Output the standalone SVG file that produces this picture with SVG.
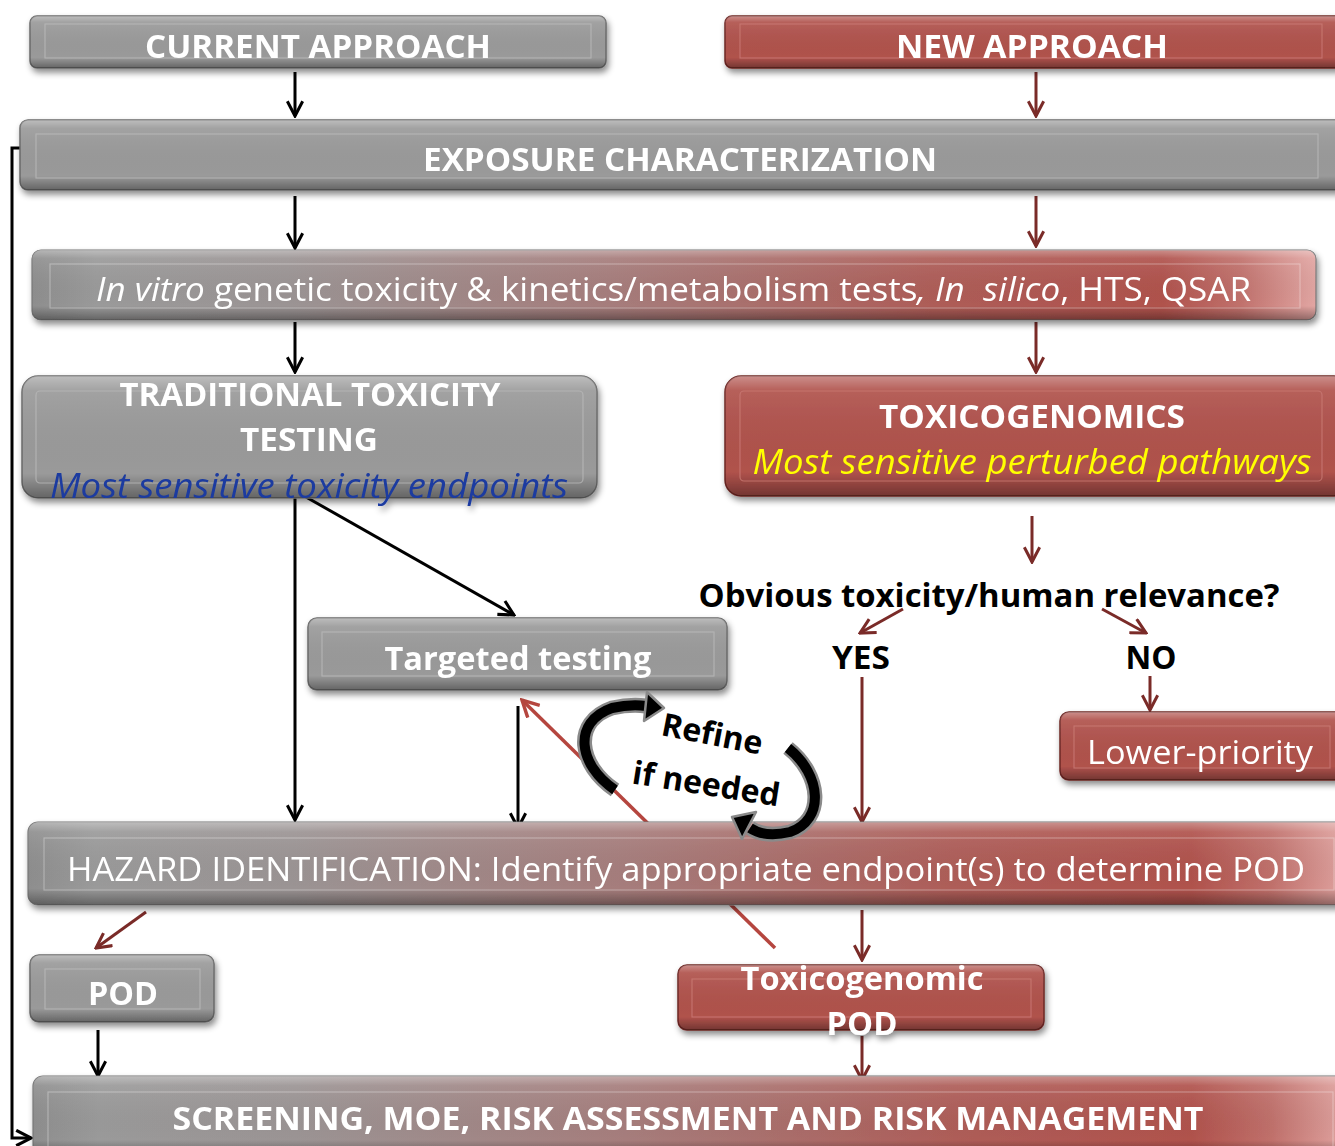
<svg xmlns="http://www.w3.org/2000/svg" width="1335" height="1146" viewBox="0 0 1335 1146">
<defs>
<style>
.g{fill:#9a9a9a;stroke:#6a6a6a;stroke-width:1.5}
.r{fill:#b0524c;stroke:#6e2724;stroke-width:1.5}
.bev{stroke:none}
.in{fill:none;stroke:#b8b8b8;stroke-width:1.2;opacity:.8}
.inr{fill:none;stroke:#c97a74;stroke-width:1.2;opacity:.8}
.t{font-family:"Open Sans","Liberation Sans",sans-serif;fill:#fff;font-weight:700;font-size:33px;text-anchor:middle}
.tn{font-family:"Open Sans","Liberation Sans",sans-serif;fill:#fff;font-weight:400;font-size:33px}
.k{font-family:"Open Sans","Liberation Sans",sans-serif;fill:#000;font-weight:700;font-size:32px;text-anchor:middle}
.cb{fill:none;stroke:#000;stroke-width:3}
.cr{fill:none;stroke:#7a2b28;stroke-width:3}
</style>
<filter id="sh" x="-5%" y="-20%" width="110%" height="150%">
<feDropShadow dx="2" dy="4" stdDeviation="3" flood-color="#000" flood-opacity="0.45"/>
</filter>
<linearGradient id="bev" x1="0" y1="0" x2="0" y2="1">
<stop offset="0" stop-color="#fff" stop-opacity="0.35"/>
<stop offset="0.12" stop-color="#fff" stop-opacity="0.08"/>
<stop offset="0.8" stop-color="#000" stop-opacity="0"/>
<stop offset="1" stop-color="#000" stop-opacity="0.35"/>
</linearGradient>
<linearGradient id="mix" x1="0" y1="0" x2="1" y2="0">
<stop offset="0" stop-color="#8e8e8e"/>
<stop offset="0.05" stop-color="#9a9a9a"/>
<stop offset="0.2" stop-color="#9b9494"/>
<stop offset="0.45" stop-color="#a67d7c"/>
<stop offset="0.7" stop-color="#ae5d58"/>
<stop offset="0.88" stop-color="#b0524c"/>
<stop offset="0.94" stop-color="#c0706b"/>
<stop offset="1" stop-color="#e2a6a3"/>
</linearGradient>
<marker id="ab" viewBox="0 0 14 14" refX="12.5" refY="7" markerWidth="18" markerHeight="18" markerUnits="userSpaceOnUse" orient="auto">
<path d="M1,1 L12.5,7 L1,13" fill="none" stroke="#000" stroke-width="2.4"/>
</marker>
<marker id="ar" viewBox="0 0 14 14" refX="12.5" refY="7" markerWidth="18" markerHeight="18" markerUnits="userSpaceOnUse" orient="auto">
<path d="M1,1 L12.5,7 L1,13" fill="none" stroke="#7a2b28" stroke-width="2.4"/>
</marker>
<marker id="ar2" viewBox="0 0 14 14" refX="12.5" refY="7" markerWidth="20" markerHeight="20" markerUnits="userSpaceOnUse" orient="auto">
<path d="M1,1 L12.5,7 L1,13" fill="none" stroke="#b5463f" stroke-width="2.4"/>
</marker>
</defs>
<rect width="1335" height="1146" fill="#fff"/>

<g id="connectors">
<path class="cb" d="M295,72 V116" marker-end="url(#ab)"/>
<path class="cr" d="M1036,72 V116" marker-end="url(#ar)"/>
<path class="cb" d="M295,196 V248" marker-end="url(#ab)"/>
<path class="cr" d="M1036,196 V246" marker-end="url(#ar)"/>
<path class="cb" d="M295,322 V372" marker-end="url(#ab)"/>
<path class="cr" d="M1036,322 V372" marker-end="url(#ar)"/>
<path class="cr" d="M1032,516 V562" marker-end="url(#ar)"/>
<path class="cb" d="M295,496 V820" marker-end="url(#ab)"/>
<path class="cb" d="M306,497 L514,615" marker-end="url(#ab)"/>
<path class="cb" d="M518,706 V828" marker-end="url(#ab)"/>
<path d="M775,948 L522,700" fill="none" stroke="#b5463f" stroke-width="3.5" marker-end="url(#ar2)"/>
<path class="cr" d="M903,609 L860,633" marker-end="url(#ar)"/>
<path class="cr" d="M1102,609 L1146,633" marker-end="url(#ar)"/>
<path class="cr" d="M862,677 V822" marker-end="url(#ar)"/>
<path class="cr" d="M1150,676 V710" marker-end="url(#ar)"/>
<path class="cr" d="M146,912 L96,948" marker-end="url(#ar)"/>
<path class="cb" d="M98,1030 V1076" marker-end="url(#ab)"/>
<path class="cr" d="M862,910 V960" marker-end="url(#ar)"/>
<path class="cr" d="M862,1036 V1080" marker-end="url(#ar)"/>
<path class="cb" d="M22,148 H12 V1138 H31" marker-end="url(#ab)"/>
</g>

<g id="current" filter="url(#sh)">
<rect class="g" x="30" y="16" width="576" height="52" rx="7"/>
<rect class="bev" x="30" y="16" width="576" height="52" rx="7" fill="url(#bev)"/>
<rect class="in" x="45" y="24" width="546" height="34"/>
<text class="t" x="318" y="58" textLength="346" lengthAdjust="spacingAndGlyphs">CURRENT APPROACH</text>
</g>

<g id="new" filter="url(#sh)">
<rect class="r" x="725" y="16" width="620" height="52" rx="7"/>
<rect class="bev" x="725" y="16" width="620" height="52" rx="7" fill="url(#bev)"/>
<rect class="inr" x="740" y="24" width="582" height="34"/>
<text class="t" x="1032" y="58" textLength="272" lengthAdjust="spacingAndGlyphs">NEW APPROACH</text>
</g>

<g id="exposure" filter="url(#sh)">
<rect class="g" x="20" y="120" width="1330" height="70" rx="8"/>
<rect class="bev" x="20" y="120" width="1330" height="70" rx="8" fill="url(#bev)"/>
<rect class="in" x="36" y="134" width="1282" height="44"/>
<text class="t" x="680" y="171" textLength="514" lengthAdjust="spacingAndGlyphs">EXPOSURE CHARACTERIZATION</text>
</g>

<g id="invitro" filter="url(#sh)">
<rect x="32" y="250" width="1284" height="70" rx="9" fill="url(#mix)" stroke="#777" stroke-width="1.2"/>
<rect class="bev" x="32" y="250" width="1284" height="70" rx="9" fill="url(#bev)"/>
<rect x="50" y="264" width="1250" height="44" fill="none" stroke="#fff" stroke-opacity="0.3" stroke-width="1.2"/>
<text class="tn" x="96" y="301" textLength="1155" lengthAdjust="spacingAndGlyphs" style="white-space:pre"><tspan font-style="italic">In vitro</tspan> genetic toxicity &amp; kinetics/metabolism tests<tspan font-style="italic">, In  silico</tspan>, HTS, QSAR</text>
</g>

<g id="traditional" filter="url(#sh)">
<rect class="g" x="22" y="376" width="575" height="122" rx="16"/>
<rect class="bev" x="22" y="376" width="575" height="122" rx="16" fill="url(#bev)"/>
<rect class="in" x="36" y="391" width="547" height="92" rx="4"/>
<text class="t" x="310" y="406" textLength="381" lengthAdjust="spacingAndGlyphs">TRADITIONAL TOXICITY</text>
<text class="t" x="309" y="451" textLength="138" lengthAdjust="spacingAndGlyphs">TESTING</text>
<text x="309" y="498" textLength="518" lengthAdjust="spacingAndGlyphs" style="font-family:'Open Sans','Liberation Sans',sans-serif;font-style:italic;font-size:34px;fill:#1a3aa0;text-anchor:middle">Most sensitive toxicity endpoints</text>
</g>

<g id="toxicogenomics" filter="url(#sh)">
<rect class="r" x="725" y="376" width="625" height="120" rx="16"/>
<rect class="bev" x="725" y="376" width="625" height="120" rx="16" fill="url(#bev)"/>
<rect class="inr" x="740" y="391" width="582" height="90" rx="4"/>
<text class="t" x="1032" y="428" textLength="306" lengthAdjust="spacingAndGlyphs">TOXICOGENOMICS</text>
<text x="1032" y="474" textLength="559" lengthAdjust="spacingAndGlyphs" style="font-family:'Open Sans','Liberation Sans',sans-serif;font-style:italic;font-size:34px;fill:#ffff00;text-anchor:middle">Most sensitive perturbed pathways</text>
</g>

<g id="targeted" filter="url(#sh)">
<rect class="g" x="308" y="618" width="419" height="72" rx="9"/>
<rect class="bev" x="308" y="618" width="419" height="72" rx="9" fill="url(#bev)"/>
<rect class="in" x="322" y="632" width="392" height="44"/>
<text class="t" x="518" y="670" textLength="267" lengthAdjust="spacingAndGlyphs">Targeted testing</text>
</g>

<g id="question">
<text class="k" x="989" y="607" textLength="581" lengthAdjust="spacingAndGlyphs">Obvious toxicity/human relevance?</text>
</g>
<g id="yes"><text class="k" x="861" y="669" textLength="58" lengthAdjust="spacingAndGlyphs">YES</text></g>
<g id="no"><text class="k" x="1151" y="669" textLength="51" lengthAdjust="spacingAndGlyphs">NO</text></g>

<g id="lowerpriority" filter="url(#sh)">
<rect class="r" x="1060" y="712" width="290" height="68" rx="9"/>
<rect class="bev" x="1060" y="712" width="290" height="68" rx="9" fill="url(#bev)"/>
<rect class="inr" x="1074" y="726" width="256" height="42"/>
<text class="tn" x="1200" y="764" text-anchor="middle" textLength="226" lengthAdjust="spacingAndGlyphs">Lower-priority</text>
</g>

<g id="hazard" filter="url(#sh)">
<rect x="28" y="822" width="1322" height="83" rx="10" fill="url(#mix)" stroke="#777" stroke-width="1.2"/>
<rect class="bev" x="28" y="822" width="1322" height="83" rx="10" fill="url(#bev)"/>
<rect x="44" y="838" width="1290" height="52" fill="none" stroke="#fff" stroke-opacity="0.3" stroke-width="1.2"/>
<text class="tn" x="686" y="881" text-anchor="middle" textLength="1238" lengthAdjust="spacingAndGlyphs">HAZARD IDENTIFICATION: Identify appropriate endpoint(s) to determine POD</text>
</g>

<g id="pod" filter="url(#sh)">
<rect class="g" x="30" y="955" width="184" height="67" rx="9"/>
<rect class="bev" x="30" y="955" width="184" height="67" rx="9" fill="url(#bev)"/>
<rect class="in" x="45" y="969" width="155" height="40"/>
<text class="t" x="123" y="1005" textLength="70" lengthAdjust="spacingAndGlyphs">POD</text>
</g>

<g id="tgpod" filter="url(#sh)">
<rect class="r" x="678" y="965" width="366" height="65" rx="9"/>
<rect class="bev" x="678" y="965" width="366" height="65" rx="9" fill="url(#bev)"/>
<rect class="inr" x="692" y="979" width="339" height="38"/>
<text class="t" x="862" y="990" textLength="243" lengthAdjust="spacingAndGlyphs">Toxicogenomic</text>
<text class="t" x="862" y="1035" textLength="71" lengthAdjust="spacingAndGlyphs">POD</text>
</g>

<g id="screening" filter="url(#sh)">
<rect x="33" y="1076" width="1317" height="80" rx="10" fill="url(#mix)" stroke="#777" stroke-width="1.2"/>
<rect class="bev" x="33" y="1076" width="1317" height="80" rx="10" fill="url(#bev)"/>
<rect x="48" y="1092" width="1285" height="60" fill="none" stroke="#fff" stroke-opacity="0.3" stroke-width="1.2"/>
<text class="t" x="688" y="1130" textLength="1031" lengthAdjust="spacingAndGlyphs">SCREENING, MOE, RISK ASSESSMENT AND RISK MANAGEMENT</text>
</g>

<g id="refine">
<path d="M615,790 C578,765 572,722 612,708 Q630,704 646,706" fill="none" stroke="#8a8a8a" stroke-width="15"/>
<path d="M615,790 C578,765 572,722 612,708 Q630,704 646,706" fill="none" stroke="#000" stroke-width="10"/>
<polygon points="664,708 647,692 644,721" fill="#000" stroke="#8a8a8a" stroke-width="2.5" stroke-linejoin="round"/>
<path d="M788,748 C822,775 825,820 790,832 Q765,838 750,828" fill="none" stroke="#8a8a8a" stroke-width="15"/>
<path d="M788,748 C822,775 825,820 790,832 Q765,838 750,828" fill="none" stroke="#000" stroke-width="10"/>
<polygon points="732,817 756,812 742,839" fill="#000" stroke="#8a8a8a" stroke-width="2.5" stroke-linejoin="round"/>
<text class="k" x="712" y="745" font-size="34" transform="rotate(11 712 735)">Refine</text>
<text class="k" x="706" y="795" font-size="34" transform="rotate(9 706 785)">if needed</text>
</g>
</svg>
